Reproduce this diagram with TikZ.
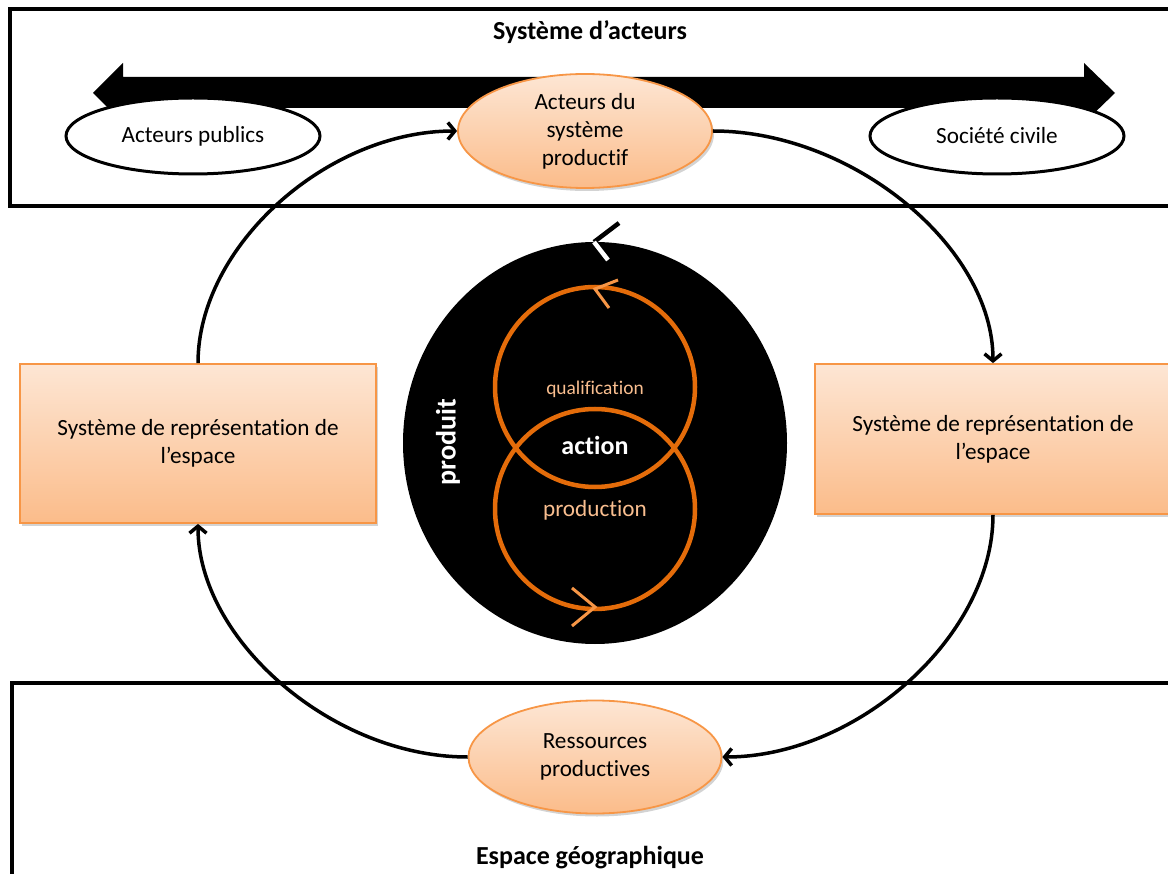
\documentclass[tikz,border=0pt]{standalone}
\usepackage{fontspec}
\setmainfont{Carlito}[Ligatures=NoCommon]
\usetikzlibrary{shapes.geometric,arrows.meta,shadows}
\definecolor{obord}{HTML}{F79646}
\definecolor{otop}{HTML}{FDE6D4}
\definecolor{obot}{HTML}{FBBC8A}
\definecolor{ring}{HTML}{E46C0A}
\definecolor{chev}{HTML}{F79646}
\definecolor{otext}{HTML}{F9BE8F}
\tikzset{
  txt/.style={font=\fontsize{23.2}{28}\selectfont, align=center, inner sep=0},
  ttl/.style={font=\fontsize{26}{30}\selectfont\bfseries, inner sep=0},
  obox/.style={draw=obord, line width=1.8pt, top color=otop, bottom color=obot,
     drop shadow={opacity=0.35, shadow xshift=2pt, shadow yshift=-3pt}},
  oell/.style={obox, ellipse, inner sep=0},
  well/.style={ellipse, draw=black, line width=3pt, fill=white, inner sep=0},
  conn/.style={line width=3.5pt, -{Straight Barb[length=7pt,width=17pt,line width=3.5pt]}},
  frame/.style={line width=3.5pt},
}
\begin{document}
\begin{tikzpicture}[x=1pt,y=-1pt]
\useasboundingbox (0,0) rectangle (1168,874);
\clip (0,0) rectangle (1168,874);
% frames
\draw[frame] (10,9) rectangle (1185,206);
\draw[frame] (12,683) rectangle (1185,900);
\node[ttl] (t1) at (590,32) {Système d’acteurs};
\node[ttl] (t2) at (590,858) {Espace géographique};
% big double arrow
\fill[black] (93,93) -- (123,63) -- (123,77) -- (1084,77) -- (1084,63) -- (1115,93)
  -- (1084,123) -- (1084,108) -- (123,108) -- (123,123) -- cycle;
% ellipses top
\node[well, minimum width=254, minimum height=76, txt] (pub) at (193,136) {Acteurs publics};
\node[well, minimum width=254, minimum height=76, txt] (civ) at (997,136) {Société civile};
\node[oell, minimum width=254, minimum height=114, txt] (A) at (585,131) {Acteurs du\\système\\productif};
\node[oell, minimum width=253, minimum height=113, txt] (P) at (595,757) {Ressources\\productives};
% rectangles
\node[obox, rectangle, minimum width=356, minimum height=159, txt] (L) at (198,443.5) {Système de représentation de\\l’espace};
\node[obox, rectangle, minimum width=356, minimum height=150, txt] (R) at (993,439) {Système de représentation de\\l’espace};
% connectors
\draw[conn] (L.north) .. controls +(0,-117) and +(-130,0) .. (A.west);
\draw[conn] (A.east) .. controls +(140,0) and +(0,-116) .. (R.north);
\draw[conn] (R.south) .. controls +(0,121) and +(135,0) .. (P.east);
\draw[conn] (P.west) .. controls +(-135,0) and +(0,116) .. (L.south);
% central black ellipse
\node[ellipse, fill=black, minimum width=384, minimum height=402, inner sep=0] (C) at (595,443) {};
\draw[ring, line width=4.5pt] (595,387) circle[radius=100];
\draw[ring, line width=4.5pt] (595,509) circle[radius=100];
\node[txt, text=otext, font=\fontsize{19.4}{22}\selectfont] (q) at (595,389) {qualification};
\node[txt, text=otext] (pr) at (595,510) {production};
\node[txt, text=white, font=\fontsize{26}{30}\selectfont\bfseries] (ac) at (595,445) {action};
\node[txt, text=white, font=\fontsize{28}{30}\selectfont\bfseries, rotate=90] (pd) at (448,442) {produit};
% chevrons
\draw[chev, line width=3pt] (618,280) -- (595,289) -- (609,308);
\draw[chev, line width=3pt] (572,588) -- (595,607) -- (572,626);
\draw[black, line width=4.5pt] (594,242) -- (619,223);
\draw[white, line width=4.5pt] (594,242) -- (608,260);
\end{tikzpicture}
\end{document}
